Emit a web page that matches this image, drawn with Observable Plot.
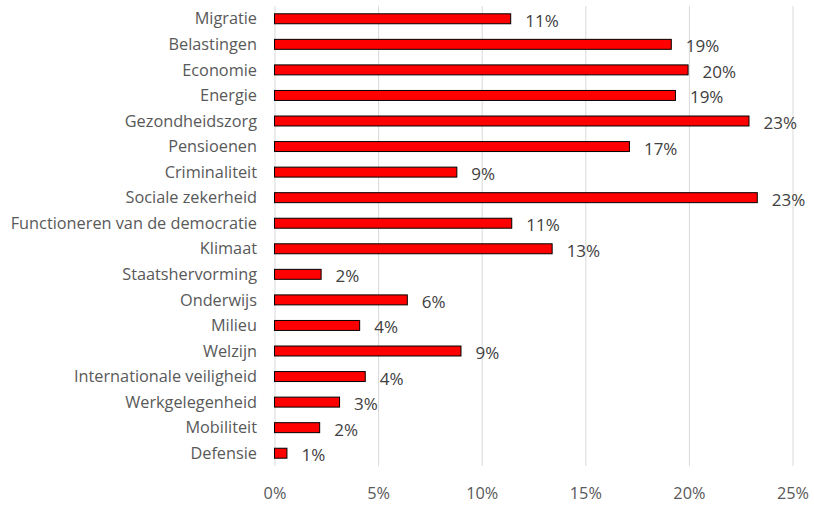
<!DOCTYPE html>
<html><head><meta charset="utf-8">
<script src="https://cdn.jsdelivr.net/npm/d3@7"></script>
<script src="https://cdn.jsdelivr.net/npm/@observablehq/plot@0.6"></script>
<style>body{margin:0;background:#fff;} svg{display:block}</style>
</head><body><div id="chart"></div>
<script>
const categories = ["Migratie","Belastingen","Economie","Energie","Gezondheidszorg","Pensioenen","Criminaliteit","Sociale zekerheid","Functioneren van de democratie","Klimaat","Staatshervorming","Onderwijs","Milieu","Welzijn","Internationale veiligheid","Werkgelegenheid","Mobiliteit","Defensie"];
const values = [11.4, 19.15, 19.96, 19.35, 22.9, 17.13, 8.8, 23.3, 11.45, 13.4, 2.25, 6.41, 4.11, 9.0, 4.38, 3.14, 2.18, 0.6];
const xTicks = [0, 5, 10, 15, 20, 25];
const data = categories.map((c, i) => ({category: c, value: values[i]}));
const chart = Plot.plot({
  width: 814, height: 505,
  marginLeft: 274.5, marginRight: 21.5, marginTop: 6, marginBottom: 39,
  style: {fontFamily: "'Open Sans'", fontSize: "16.3px", color: "#595959", background: "#fff"},
  x: {domain: [0, 25], ticks: xTicks, tickFormat: d => d + "%", tickSize: 0, tickPadding: 21, label: null},
  y: {domain: categories, paddingInner: 0.61, paddingOuter: 0.305, round: false, tickSize: 0, tickPadding: 18, label: null},
  marks: [
    Plot.ruleX(xTicks, {stroke: "#d9d9d9", strokeWidth: 1}),
    Plot.barX(data, {x: "value", y: "category", fill: "#ff0000", stroke: "#000", strokeWidth: 1}),
    Plot.text(data, {x: "value", y: "category", text: d => Math.round(d.value) + "%", textAnchor: "start", dx: 14, dy: 2, fill: "#404040", fontSize: 17})
  ]
});
document.getElementById("chart").appendChild(chart);
</script></body></html>
